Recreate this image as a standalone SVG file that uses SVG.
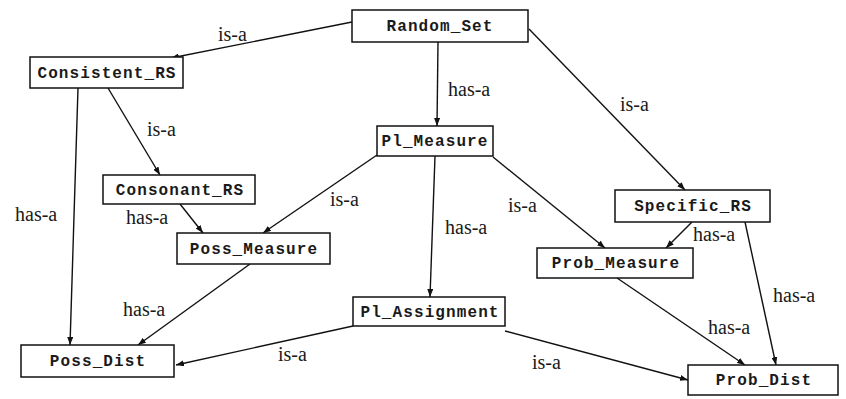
<svg xmlns="http://www.w3.org/2000/svg" width="846" height="399" viewBox="0 0 846 399">
<style>
.box{fill:#fff;stroke:#111;stroke-width:1.5}
.nt{font-family:"Liberation Mono","DejaVu Sans Mono",monospace;font-size:16px;font-weight:bold;fill:#1a1a1a;text-anchor:middle;letter-spacing:1.1px}
.el{font-family:"Liberation Serif","DejaVu Serif",serif;font-size:20px;fill:#1a1a1a}
.ed{stroke:#111;stroke-width:1.4;fill:none;marker-end:url(#ah)}
</style>
<defs>
<marker id="ah" markerUnits="userSpaceOnUse" markerWidth="8" markerHeight="6" refX="8" refY="3" orient="auto">
<path d="M0,0 L8,3 L0,6 z" fill="#111"/>
</marker>
</defs>
<rect width="846" height="399" fill="#fff"/>
<g id="connectors">
<line class="ed" x1="352" y1="22" x2="171" y2="58"/>
<line class="ed" x1="438" y1="42" x2="437" y2="126"/>
<line class="ed" x1="529" y1="29" x2="685" y2="190"/>
<line class="ed" x1="108" y1="88" x2="160" y2="175"/>
<line class="ed" x1="78" y1="88" x2="70" y2="345"/>
<line class="ed" x1="180" y1="204" x2="203" y2="233"/>
<line class="ed" x1="377" y1="155" x2="263" y2="233"/>
<line class="ed" x1="435" y1="156" x2="430" y2="297"/>
<line class="ed" x1="493" y1="157" x2="605" y2="248"/>
<line class="ed" x1="692" y1="222" x2="666" y2="248"/>
<line class="ed" x1="745" y1="222" x2="776" y2="365"/>
<line class="ed" x1="250" y1="264" x2="138" y2="345"/>
<line class="ed" x1="617" y1="278" x2="745" y2="365"/>
<line class="ed" x1="353" y1="326" x2="176" y2="365"/>
<line class="ed" x1="505" y1="331" x2="688" y2="380"/>
</g>
<g id="edge-labels">
<text class="el" x="218" y="41">is-a</text>
<text class="el" x="448" y="96">has-a</text>
<text class="el" x="620" y="111">is-a</text>
<text class="el" x="147" y="136">is-a</text>
<text class="el" x="15" y="221">has-a</text>
<text class="el" x="126" y="224">has-a</text>
<text class="el" x="330" y="206">is-a</text>
<text class="el" x="445" y="234">has-a</text>
<text class="el" x="508" y="212">is-a</text>
<text class="el" x="693" y="241">has-a</text>
<text class="el" x="773" y="302">has-a</text>
<text class="el" x="123" y="316">has-a</text>
<text class="el" x="708" y="334">has-a</text>
<text class="el" x="278" y="361">is-a</text>
<text class="el" x="532" y="369">is-a</text>
</g>
<g id="Random_Set"><rect class="box" x="352" y="10" width="176" height="32"/><text class="nt" x="440" y="31">Random_Set</text></g>
<g id="Consistent_RS"><rect class="box" x="30" y="57" width="153" height="31"/><text class="nt" x="107" y="78">Consistent_RS</text></g>
<g id="Pl_Measure"><rect class="box" x="377" y="126" width="116" height="30"/><text class="nt" x="435" y="146">Pl_Measure</text></g>
<g id="Consonant_RS"><rect class="box" x="103" y="175" width="152" height="29"/><text class="nt" x="180" y="195">Consonant_RS</text></g>
<g id="Poss_Measure"><rect class="box" x="177" y="233" width="153" height="31"/><text class="nt" x="254" y="254">Poss_Measure</text></g>
<g id="Specific_RS"><rect class="box" x="615" y="190" width="155" height="32"/><text class="nt" x="693" y="211">Specific_RS</text></g>
<g id="Prob_Measure"><rect class="box" x="537" y="248" width="156" height="30"/><text class="nt" x="616" y="268">Prob_Measure</text></g>
<g id="Pl_Assignment"><rect class="box" x="353" y="297" width="152" height="29"/><text class="nt" x="430" y="317">Pl_Assignment</text></g>
<g id="Poss_Dist"><rect class="box" x="21" y="345" width="153" height="32"/><text class="nt" x="98" y="366">Poss_Dist</text></g>
<g id="Prob_Dist"><rect class="box" x="688" y="365" width="150" height="30"/><text class="nt" x="764" y="385">Prob_Dist</text></g>
</svg>
